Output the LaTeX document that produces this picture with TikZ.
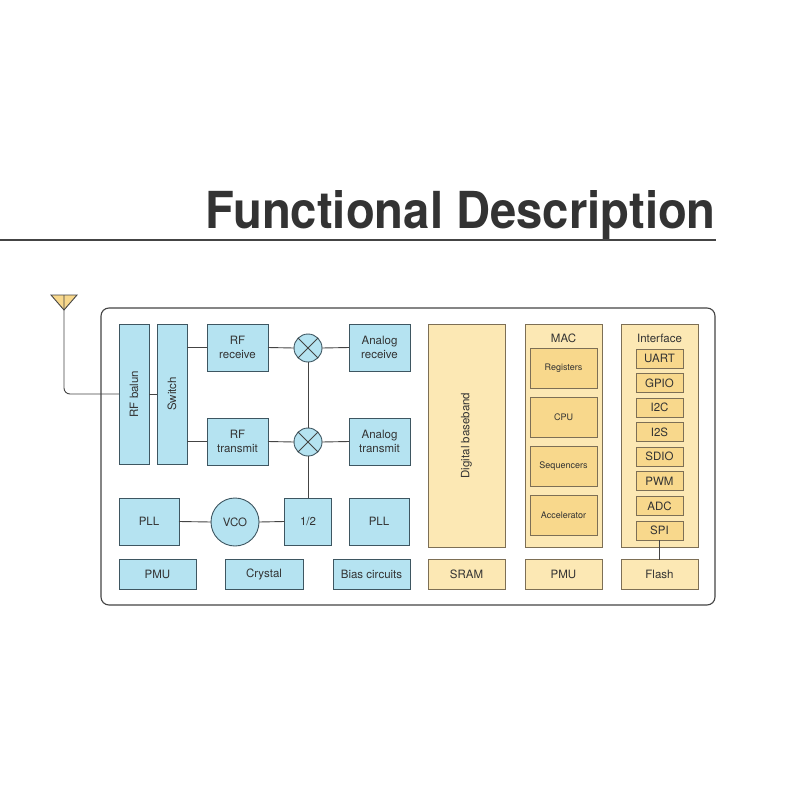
\documentclass[tikz,border=0pt]{standalone}
\usepackage{fontspec}
\setmainfont{TeX Gyre Heros}
\definecolor{rfblue}{HTML}{B5E3F1}
\definecolor{rfline}{HTML}{3E5661}
\definecolor{dgpale}{HTML}{FCE8B4}
\definecolor{dgdeep}{HTML}{F8D88C}
\definecolor{dgline}{HTML}{7D6F55}
\definecolor{txt}{HTML}{333333}
\definecolor{wire}{HTML}{444444}
\begin{document}
\begin{tikzpicture}[x=1pt,y=-1pt,
  blk/.style={draw=rfline, fill=rfblue, line width=0.9pt, inner sep=0pt, outer sep=0pt,
    align=center, text=txt, font=\fontsize{11.5}{14.5}\selectfont},
  yblk/.style={blk, draw=dgline, fill=dgpale},
  ysub/.style={yblk, fill=dgdeep},
  mix/.style={blk, circle, minimum size=28pt},
  lbl/.style={text=txt, font=\fontsize{11.5}{14.5}\selectfont},
  wr/.style={draw=wire, line width=0.9pt}]
\useasboundingbox (0,0) rectangle (800,800);

% title
\node[anchor=base east, text=txt, font=\fontsize{51}{56}\selectfont\bfseries, inner sep=0pt] (title) at (716,228) {\scalebox{0.926}[1]{Functional Description}};
\draw[draw=wire, line width=1.1pt] (0,240) -- (716,240);

% chip outline
\draw[draw=wire, line width=1.1pt, rounded corners=8pt, fill=white] (101,308) rectangle (715,605);

% antenna
\draw[draw=wire, line width=0.9pt, fill=dgdeep] (51,295) -- (77,295) -- (64,310) -- cycle;
\coordinate (ant) at (64,295);

% radio part
\node[blk, rotate=90, minimum width=140pt, minimum height=30pt] (balun) at (134,394) {RF balun};
\node[blk, rotate=90, minimum width=140pt, minimum height=30pt] (switch) at (172,394) {Switch};
\node[blk, minimum width=61pt, minimum height=47pt] (rfrx) at (237.5,347.5) {RF\\receive};
\node[blk, minimum width=61pt, minimum height=47pt] (rftx) at (237.5,441.5) {RF\\transmit};
\node[mix] (mixrx) at (308,348) {};
\node[mix] (mixtx) at (308,442) {};
\node[blk, minimum width=61pt, minimum height=47pt] (arx) at (379.5,347.5) {Analog\\receive};
\node[blk, minimum width=61pt, minimum height=47pt] (atx) at (379.5,441.5) {Analog\\transmit};

\node[blk, minimum width=60pt, minimum height=47pt] (pll) at (149,521.5) {PLL};
\node[blk, circle, minimum size=48pt] (vco) at (235,522) {VCO};
\node[blk, minimum width=47pt, minimum height=47pt] (half) at (308,521.5) {1/2};
\node[blk, minimum width=60pt, minimum height=47pt] (pllb) at (379,521.5) {PLL};

\node[blk, minimum width=77pt, minimum height=30pt] (pmu) at (157.5,574) {PMU};
\node[blk, minimum width=78pt, minimum height=30pt] (xtal) at (264,574) {Crystal};
\node[blk, minimum width=77pt, minimum height=30pt] (bias) at (371.5,574) {Bias circuits};

% digital part
\node[yblk, rotate=90, minimum width=223pt, minimum height=77pt] (dbb) at (466.5,435.5) {Digital baseband};
\node[yblk, minimum width=77pt, minimum height=30pt] (sram) at (466.5,574.5) {SRAM};

\node[yblk, minimum width=77pt, minimum height=223pt] (mac) at (563.5,435.5) {};
\node[lbl] (maclbl) at (563.5,338) {MAC};
\foreach \name/\txt [count=\i from 0] in {regs/Registers, cpu/CPU, seq/Sequencers, accel/Accelerator}
  \node[ysub, minimum width=67pt, minimum height=40pt, font=\fontsize{9}{11}\selectfont] (\name) at (563.5,368+49*\i) {\txt};
\node[yblk, minimum width=77pt, minimum height=30pt] (pmub) at (563.5,574.5) {PMU};

\node[yblk, minimum width=77pt, minimum height=223pt] (intf) at (659.5,435.5) {};
\node[lbl] (intflbl) at (659.5,338) {Interface};
\foreach \name/\txt [count=\i from 0] in {uart/UART, gpio/GPIO, itc/I2C, its/I2S, sdio/SDIO, pwm/PWM, adc/ADC, spi/SPI}
  \node[ysub, minimum width=47pt, minimum height=19pt] (\name) at (659.5,358.5+24.57*\i) {\txt};
\node[yblk, minimum width=77pt, minimum height=30pt] (flash) at (659.5,574.5) {Flash};

% wires
\draw[wr, rounded corners=6pt] (ant) |- (balun.north);
\draw[wr] (balun.south) -- (switch.north);
\draw[wr] (rfrx.west) -- (rfrx.west -| switch.south);
\draw[wr] (rftx.west) -- (rftx.west -| switch.south);
\draw[wr] (rfrx.east) -- (mixrx.west);
\draw[wr] (rftx.east) -- (mixtx.west);
\draw[wr] (mixrx.east) -- (arx.west);
\draw[wr] (mixtx.east) -- (atx.west);
\draw[wr] (mixrx.south) -- (mixtx.north);
\draw[wr] (mixtx.south) -- (mixtx.south |- half.north);
\foreach \m in {mixrx, mixtx} {
  \draw[wr] (\m.45) -- (\m.225);
  \draw[wr] (\m.135) -- (\m.-45);
}
\draw[wr] (pll.east) -- (vco.west);
\draw[wr] (vco.east) -- (half.west);
\draw[wr] (spi.south) -- (flash.north);
\end{tikzpicture}
\end{document}
